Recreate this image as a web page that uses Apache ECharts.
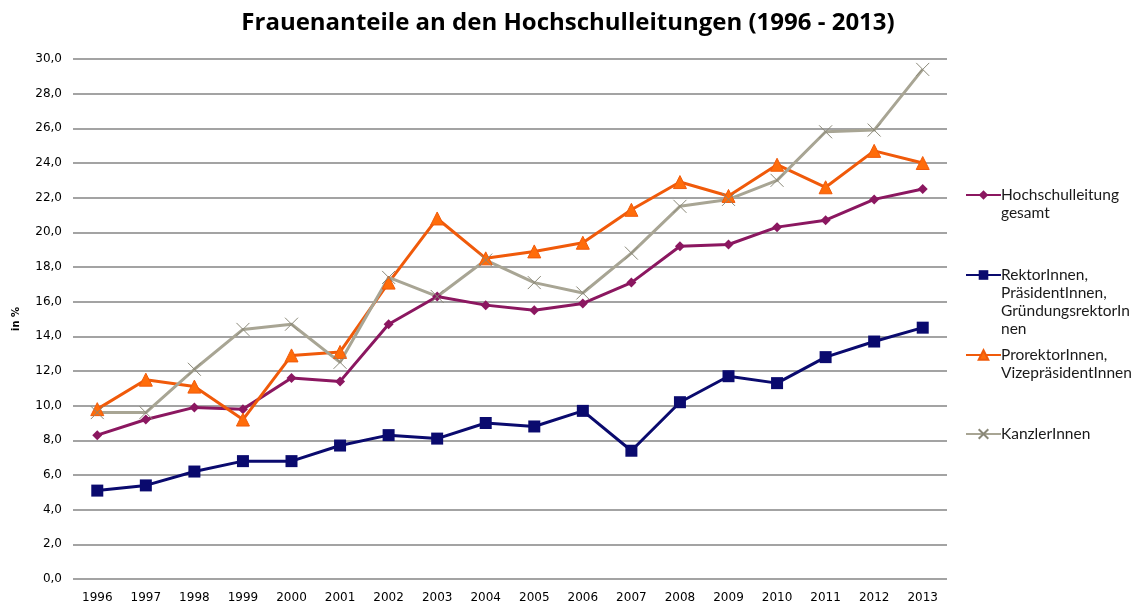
<!DOCTYPE html>
<html>
<head>
<meta charset="utf-8">
<script src="https://cdn.jsdelivr.net/npm/echarts@6/dist/echarts.min.js"></script>
<style>
  html, body { margin: 0; padding: 0; background: #fff; }
  #chart { width: 1139px; height: 607px; }
</style>
</head>
<body>
<div id="chart"></div>
<script>
// Jahre
var years = ['1996', '1997', '1998', '1999', '2000', '2001', '2002', '2003', '2004',
  '2005', '2006', '2007', '2008', '2009', '2010', '2011', '2012', '2013']
// Frauenanteile in %
var gesamt = [8.3, 9.2, 9.9, 9.8, 11.6, 11.4, 14.7, 16.3, 15.8, 15.5, 15.9, 17.1, 19.2, 19.3, 20.3, 20.7, 21.9, 22.5]
var rektoren = [5.1, 5.4, 6.2, 6.8, 6.8, 7.7, 8.3, 8.1, 9.0, 8.8, 9.7, 7.4, 10.2, 11.7, 11.3, 12.8, 13.7, 14.5]
var prorektoren = [9.8, 11.5, 11.1, 9.2, 12.9, 13.1, 17.1, 20.8, 18.5, 18.9, 19.4, 21.3, 22.9, 22.1, 23.9, 22.6, 24.7, 24.0]
var kanzler = [9.6, 9.6, 12.1, 14.4, 14.7, 12.5, 17.4, 16.3, 18.4, 17.1, 16.5, 18.8, 21.5, 21.9, 23.0, 25.8, 25.9, 29.4]
var yTicks = { min: 0, max: 30, interval: 2 }

var names = ['Hochschulleitung gesamt', 'RektorInnen, PräsidentInnen, GründungsrektorInnen',
  'ProrektorInnen, VizepräsidentInnen', 'KanzlerInnen']
// Legendentext umbrechen wie im Original (Icon auf Höhe der ersten Zeile)
var legendText = {}
legendText[names[0]] = '\nHochschulleitung\ngesamt'
legendText[names[1]] = '\n\n\nRektorInnen,\nPräsidentInnen,\nGründungsrektorIn\nnen'
legendText[names[2]] = '\nProrektorInnen,\nVizepräsidentInnen'
legendText[names[3]] = 'KanzlerInnen'
var legendTop = [168, 212, 328, 425]

var myChart = echarts.init(document.getElementById('chart'))

function makeLegend(i) {
  return {
    data: [names[i]],
    left: 965,
    top: legendTop[i],
    orient: 'vertical',
    itemWidth: 35,
    itemHeight: 12,
    itemGap: 0,
    padding: 0,
    selectedMode: false,
    formatter: function (name) { return legendText[name] },
    textStyle: {
      fontFamily: 'Lato',
      fontSize: 15.5,
      lineHeight: 18,
      color: '#1a1a1a',
      padding: [0, 0, 0, -5]
    }
  }
}

var option = {
  animation: false,
  title: {
    text: 'Frauenanteile an den Hochschulleitungen (1996 - 2013)',
    left: 563,
    textAlign: 'center',
    top: 6,
    textStyle: {
      fontFamily: 'Open Sans',
      fontWeight: 'bold',
      fontSize: 24,
      color: '#000'
    }
  },
  legend: [makeLegend(0), makeLegend(1), makeLegend(2), makeLegend(3)],
  grid: {
    left: 73,
    right: 1139 - 947,
    top: 59,
    bottom: 607 - 579,
    containLabel: false
  },
  xAxis: {
    type: 'category',
    data: years,
    boundaryGap: true,
    axisLine: { show: false },
    axisTick: { show: false },
    axisLabel: {
      fontFamily: 'DejaVu Sans',
      fontSize: 12,
      color: '#000',
      margin: 13,
      interval: 0
    }
  },
  yAxis: {
    type: 'value',
    min: yTicks.min,
    max: yTicks.max,
    interval: yTicks.interval,
    name: 'in %',
    nameLocation: 'middle',
    nameGap: 52,
    nameTextStyle: {
      fontFamily: 'DejaVu Sans',
      fontWeight: 'bold',
      fontSize: 10,
      color: '#000'
    },
    axisLine: { show: false },
    axisTick: { show: false },
    axisLabel: {
      fontFamily: 'DejaVu Sans',
      fontSize: 12,
      color: '#000',
      margin: 11,
      formatter: function (v) { return v.toFixed(1).replace('.', ',') }
    },
    splitLine: {
      lineStyle: { color: '#858585', width: 1.5 }
    }
  },
  series: [
    {
      name: names[0],
      type: 'line',
      data: gesamt,
      symbol: 'diamond',
      symbolSize: 10,
      lineStyle: { color: '#8b1760', width: 3 },
      itemStyle: { color: '#8b1760' }
    },
    {
      name: names[1],
      type: 'line',
      data: rektoren,
      symbol: 'rect',
      symbolSize: 12,
      lineStyle: { color: '#0a0a6e', width: 3 },
      itemStyle: { color: '#0a0a6e' }
    },
    {
      name: names[2],
      type: 'line',
      data: prorektoren,
      symbol: 'triangle',
      symbolSize: 13,
      lineStyle: { color: '#f05a0a', width: 3 },
      itemStyle: { color: '#ff6c0a', borderColor: '#f05a0a', borderWidth: 1 }
    },
    {
      name: names[3],
      type: 'line',
      data: kanzler,
      symbol: 'path://M0,0L10,10M10,0L0,10',
      symbolSize: 13,
      lineStyle: { color: '#a8a594', width: 3 },
      itemStyle: { color: '#a8a594', borderColor: '#8a8878', borderWidth: 1 }
    }
  ]
}

myChart.setOption(option)
window.addEventListener('resize', function () {
  myChart.resize()
})
</script>
</body>
</html>
